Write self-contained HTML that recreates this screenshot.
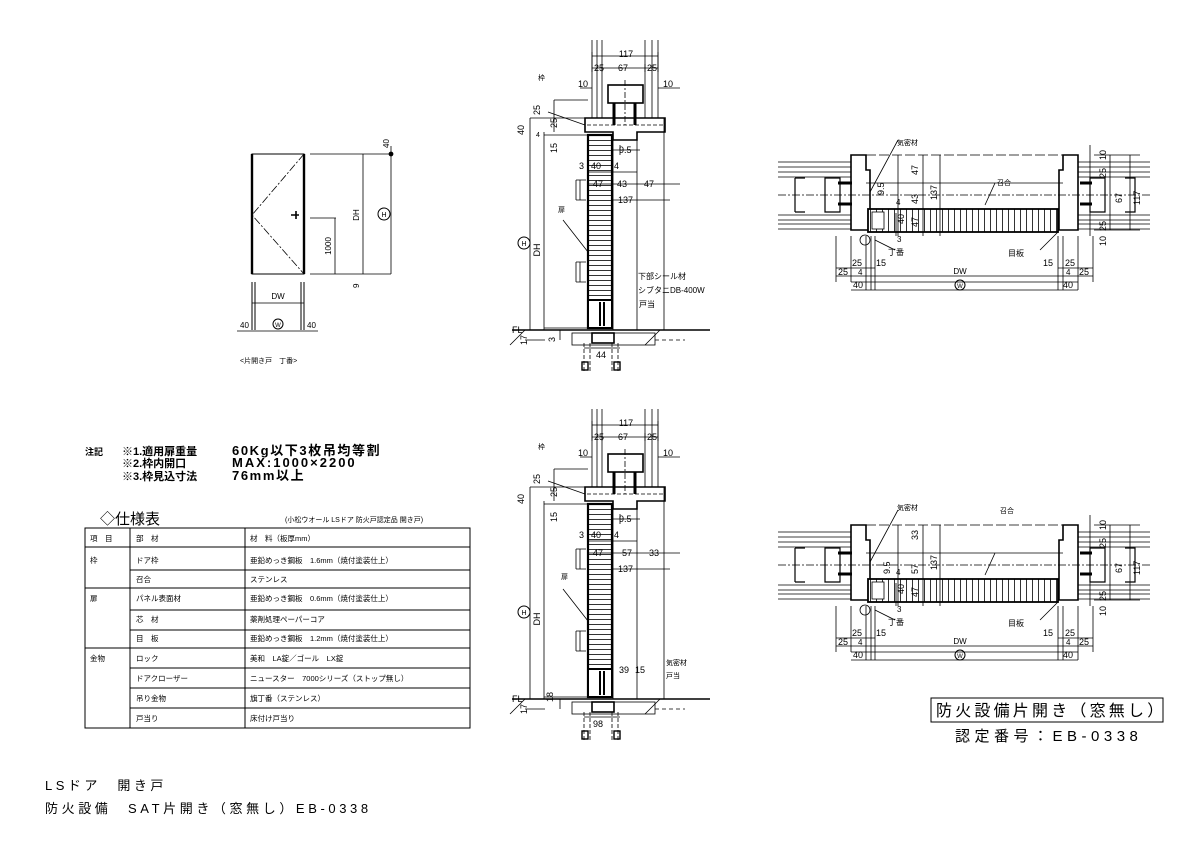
<!DOCTYPE html>
<html><head><meta charset="utf-8"><style>
html,body{margin:0;padding:0;background:#fff;}
svg{display:block;}
text{font-family:"Liberation Sans","Noto Sans CJK JP",sans-serif;fill:#000;}
</style></head><body>
<svg width="1191" height="842" viewBox="0 0 1191 842" xmlns="http://www.w3.org/2000/svg">
<defs>
<pattern id="hh" width="6" height="5" patternUnits="userSpaceOnUse"><rect width="6" height="5" fill="#fff"/><line x1="0" y1="0.5" x2="6" y2="0.5" stroke="#000" stroke-width="0.8"/></pattern>
<pattern id="vh" width="6" height="6" patternUnits="userSpaceOnUse"><rect width="6" height="6" fill="#fff"/><line x1="0.5" y1="0" x2="0.5" y2="6" stroke="#000" stroke-width="0.8"/></pattern>

<g id="sec" stroke="#000" fill="none" stroke-width="0.8">
  <path d="M592 40V118 M597 40V118 M602 40V118 M645 40V118 M652 40V118 M658 40V118"/>
  <path d="M592 56H658 M592 68H658 M580 88H592 M658 88H680"/>
  <path d="M592 52V72 M602 64V72 M645 64V72 M658 52V72"/>
  <rect x="608" y="85" width="35" height="18" stroke-width="1.6"/>
  <path d="M614 103V125 M635 103V125" stroke-width="3"/>
  <path d="M625 80V125" stroke-dasharray="6 2 2 2"/>
  <path d="M585 118H665V132H637V140H613V132H585Z" stroke-width="1.6"/>
  <path d="M587 125H665" stroke-dasharray="4 2"/>
  <rect x="588" y="135" width="24" height="193" fill="url(#hh)" stroke-width="2.2"/>
  <rect x="588" y="300" width="24" height="28" fill="#fff" stroke-width="2"/>
  <path d="M600 302V326 M604 302V326" stroke-width="2"/>
  <path d="M613 140V330 M637 132V330 M664 118V330"/>
  <path d="M576 180H586 M576 180V200 M580 180V200 M576 200H586 M576 262H586 M576 262V282 M580 262V282 M576 282H586"/>
  <path d="M530 118V330 M544 132V330 M530 118H588 M544 135H588 M544 328H588 M525 340H545"/>
  <path d="M554 100V132 M554 100H588 M560 330V340"/>
  <path d="M512 330H710" stroke-width="1.4"/>
  <path d="M510 345L525 330 M645 345L660 330"/>
  <rect x="572" y="333" width="83" height="12" stroke-width="0.8"/>
  <rect x="592" y="333" width="22" height="10" stroke-width="1.6"/>
  <path d="M584 343V372 M590 343V372 M612 343V372 M618 343V372" stroke-dasharray="4 2"/>
  <path d="M584 348H620" />
  <rect x="582" y="362" width="6" height="8" stroke-width="1.4"/>
  <rect x="614" y="362" width="6" height="8" stroke-width="1.4"/>
  <path d="M655 340H685" stroke-dasharray="4 3"/>
  <path d="M613 150H640 M588 172H637 M588 184H680 M613 200H670 M620 145V155"/>
  <path d="M548 112L585 125 M563 220L588 252"/>
</g>

<g id="plan" stroke="#000" fill="none" stroke-width="0.8">
  <path d="M778 162H851 M778 167H851 M778 172H851 M778 177H851 M778 215H851 M778 220H851 M778 224H851 M778 229H851"/>
  <path d="M1078 162H1150 M1078 167H1150 M1078 172H1150 M1078 177H1150 M1078 215H1150 M1078 220H1150 M1078 224H1150 M1078 229H1150"/>
  <path d="M778 195H1150" stroke-dasharray="8 2 2 2"/>
  <path d="M795 178V212 M795 178H805 M795 212H805 M825 178H840V212H825Z" stroke-width="1.2"/>
  <path d="M1090 178H1105V212H1090Z M1125 178H1135V212H1125" stroke-width="1.2"/>
  <path d="M838 183H852 M838 204H852 M1080 183H1092 M1080 204H1092" stroke-width="3"/>
  <path d="M851 155H866V170H870V230H851Z" stroke-width="1.6"/>
  <path d="M1078 155H1063V170H1059V230H1078Z" stroke-width="1.6"/>
  <path d="M866 155H1063" stroke-dasharray="10 3"/>
  <path d="M866 183H1063"/>
  <rect x="868" y="209" width="190" height="23" fill="url(#vh)" stroke-width="1.8"/>
  <rect x="872" y="212" width="12" height="17" fill="#fff"/>
  <circle cx="865" cy="240" r="5"/>
  <path d="M851 236V282 M866 236V290 M871 236V290 M875 236V290 M1058 236V290 M1063 236V290 M1078 236V290 M836 236V282 M1093 236V282"/>
  <path d="M836 268H875 M1058 268H1093 M836 276H1093 M851 282H1078 M851 290H1078"/>
  <path d="M923 155V236 M940 155V236 M898 155V236 M896 213V236"/>
  <path d="M1090 145V236 M1110 155V230 M1130 155V230 M1094 155H1140 M1094 230H1140"/>
  <path d="M870 192L898 140 M875 240L895 250 M1040 250L1058 232 M985 205L995 183"/>
</g>
</defs>

<g stroke="#000" fill="none" stroke-width="0.8">
  <rect x="252" y="154" width="52" height="120" stroke-width="1"/>
  <path d="M252 154V274 M304 154V274" stroke-width="2.4"/>
  <path d="M304 154L252 215L304 274" stroke-dasharray="8 2 2 2"/>
  <path d="M296 211V219 M291 215H299" stroke-width="1.6"/>
  <path d="M310 154H391 M310 218H336 M310 274H391 M335 218V274 M363 154V274 M391 146V274"/>
  <path d="M252 282V330 M304 282V330 M255 282V330 M301 282V330" stroke-width="1"/>
  <path d="M252 303H304 M237 331H318"/>
  <circle cx="391" cy="154" r="2" fill="#000"/>
</g>
<g font-size="8">
  <text x="278" y="299" text-anchor="middle">DW</text>
  <text x="240" y="328">40</text>
  <text x="307" y="328">40</text>
  <circle cx="278" cy="324" r="5" fill="none" stroke="#000"/>
  <text x="278" y="327" text-anchor="middle" font-size="6">W</text>
  <text transform="translate(359,215) rotate(-90)" text-anchor="middle">DH</text>
  <text transform="translate(331,246) rotate(-90)" text-anchor="middle">1000</text>
  <text transform="translate(389,148) rotate(-90)">40</text>
  <text transform="translate(359,288) rotate(-90)">9</text>
  <circle cx="384" cy="214" r="6" fill="none" stroke="#000"/>
  <text x="384" y="217" text-anchor="middle" font-size="7">H</text>
  <text x="240" y="363" font-size="7">&lt;片開き戸　丁番&gt;</text>
</g>

<use href="#sec"/>
<use href="#sec" transform="translate(0,369)"/>
<g font-size="9">
  <text x="626" y="57" text-anchor="middle">117</text>
  <text x="594" y="71">25</text><text x="618" y="71">67</text><text x="647" y="71">25</text>
  <text x="578" y="87">10</text><text x="663" y="87">10</text>
  <text x="538" y="80" font-size="7">枠</text>
  <text transform="translate(524,135) rotate(-90)">40</text>
  <text transform="translate(540,115) rotate(-90)">25</text>
  <text transform="translate(557,128) rotate(-90)">25</text>
  <text transform="translate(557,153) rotate(-90)">15</text>
  <text x="536" y="137" font-size="7">4</text>
  <text x="619" y="153">9.5</text>
  <text x="579" y="169">3</text><text x="591" y="169">40</text><text x="614" y="169">4</text>
  <text x="593" y="187">47</text><text x="617" y="187">43</text><text x="644" y="187">47</text>
  <text x="618" y="203">137</text>
  <text x="558" y="212" font-size="7">扉</text>
  <text transform="translate(540,250) rotate(-90)" text-anchor="middle">DH</text>
  <circle cx="524" cy="243" r="6" fill="none" stroke="#000"/>
  <text x="524" y="246" text-anchor="middle" font-size="7">H</text>
  <text x="638" y="279" font-size="8">下部シール材</text>
  <text x="638" y="293" font-size="8">シブタニDB-400W</text>
  <text x="639" y="307" font-size="8">戸当</text>
  <text x="512" y="333">FL</text>
  <text transform="translate(527,345) rotate(-90)">17</text>
  <text transform="translate(555,342) rotate(-90)">3</text>
  <text x="596" y="358">44</text>

  <g transform="translate(0,369)">
  <text x="626" y="57" text-anchor="middle">117</text>
  <text x="594" y="71">25</text><text x="618" y="71">67</text><text x="647" y="71">25</text>
  <text x="578" y="87">10</text><text x="663" y="87">10</text>
  <text x="538" y="80" font-size="7">枠</text>
  <text transform="translate(524,135) rotate(-90)">40</text>
  <text transform="translate(540,115) rotate(-90)">25</text>
  <text transform="translate(557,128) rotate(-90)">25</text>
  <text transform="translate(557,153) rotate(-90)">15</text>
  <text x="619" y="153">9.5</text>
  <text x="579" y="169">3</text><text x="591" y="169">40</text><text x="614" y="169">4</text>
  <text x="593" y="187">47</text><text x="622" y="187">57</text><text x="649" y="187">33</text>
  <text x="618" y="203">137</text>
  <text x="561" y="210" font-size="7">扉</text>
  <text transform="translate(540,250) rotate(-90)" text-anchor="middle">DH</text>
  <circle cx="524" cy="243" r="6" fill="none" stroke="#000"/>
  <text x="524" y="246" text-anchor="middle" font-size="7">H</text>
  <text x="666" y="296" font-size="7">気密材</text>
  <text x="666" y="309" font-size="7">戸当</text>
  <text x="619" y="304">39</text><text x="635" y="304">15</text>
  <text x="512" y="333">FL</text>
  <text transform="translate(527,345) rotate(-90)">17</text>
  <text transform="translate(553,333) rotate(-90)">18</text>
  <text x="593" y="358">98</text>
  </g>
</g>

<use href="#plan"/>
<use href="#plan" transform="translate(0,370)"/>
<g font-size="9">
  <text x="897" y="145" font-size="7">気密材</text>
  <text x="997" y="185" font-size="7">召合</text>
  <text transform="translate(918,175) rotate(-90)">47</text>
  <text transform="translate(918,204) rotate(-90)">43</text>
  <text transform="translate(937,200) rotate(-90)">137</text>
  <text transform="translate(884,195) rotate(-90)">9.5</text>
  <text transform="translate(904,224) rotate(-90)">40</text>
  <text transform="translate(918,227) rotate(-90)">47</text>
  <text x="896" y="205" font-size="8">4</text>
  <text x="897" y="242" font-size="8">3</text>
  <text x="888" y="255" font-size="8">丁番</text>
  <text x="1008" y="256" font-size="8">目板</text>
  <text x="852" y="266">25</text><text x="876" y="266">15</text>
  <text x="1043" y="266">15</text><text x="1065" y="266">25</text>
  <text x="838" y="275">25</text><text x="858" y="275" font-size="8">4</text>
  <text x="1066" y="275" font-size="8">4</text><text x="1079" y="275">25</text>
  <text x="960" y="274" text-anchor="middle" font-size="8">DW</text>
  <text x="853" y="288">40</text><text x="1063" y="288">40</text>
  <circle cx="960" cy="285" r="5" fill="none" stroke="#000"/>
  <text x="960" y="288" text-anchor="middle" font-size="6">W</text>
  <text transform="translate(1106,160) rotate(-90)">10</text>
  <text transform="translate(1106,178) rotate(-90)">25</text>
  <text transform="translate(1122,203) rotate(-90)">67</text>
  <text transform="translate(1140,205) rotate(-90)">117</text>
  <text transform="translate(1106,231) rotate(-90)">25</text>
  <text transform="translate(1106,246) rotate(-90)">10</text>

  <g transform="translate(0,370)">
  <text x="897" y="140" font-size="7">気密材</text>
  <text x="1000" y="143" font-size="7">召合</text>
  <text transform="translate(918,170) rotate(-90)">33</text>
  <text transform="translate(918,204) rotate(-90)">57</text>
  <text transform="translate(937,200) rotate(-90)">137</text>
  <text transform="translate(890,204) rotate(-90)">9.5</text>
  <text transform="translate(904,224) rotate(-90)">40</text>
  <text transform="translate(918,227) rotate(-90)">47</text>
  <text x="896" y="205" font-size="8">4</text>
  <text x="897" y="242" font-size="8">3</text>
  <text x="888" y="255" font-size="8">丁番</text>
  <text x="1008" y="256" font-size="8">目板</text>
  <text x="852" y="266">25</text><text x="876" y="266">15</text>
  <text x="1043" y="266">15</text><text x="1065" y="266">25</text>
  <text x="838" y="275">25</text><text x="858" y="275" font-size="8">4</text>
  <text x="1066" y="275" font-size="8">4</text><text x="1079" y="275">25</text>
  <text x="960" y="274" text-anchor="middle" font-size="8">DW</text>
  <text x="853" y="288">40</text><text x="1063" y="288">40</text>
  <circle cx="960" cy="285" r="5" fill="none" stroke="#000"/>
  <text x="960" y="288" text-anchor="middle" font-size="6">W</text>
  <text transform="translate(1106,160) rotate(-90)">10</text>
  <text transform="translate(1106,178) rotate(-90)">25</text>
  <text transform="translate(1122,203) rotate(-90)">67</text>
  <text transform="translate(1140,205) rotate(-90)">117</text>
  <text transform="translate(1106,231) rotate(-90)">25</text>
  <text transform="translate(1106,246) rotate(-90)">10</text>
  </g>
</g>

<g font-size="11" font-weight="bold">
  <text x="85" y="455" font-size="9">注記</text>
  <text x="122" y="455">※1.適用扉重量</text><text x="232" y="455" font-size="13" letter-spacing="1.6">60Kg以下3枚吊均等割</text>
  <text x="122" y="467">※2.枠内開口</text><text x="232" y="467" font-size="13" letter-spacing="2">MAX:1000×2200</text>
  <text x="122" y="480">※3.枠見込寸法</text><text x="232" y="480" font-size="13" letter-spacing="1.6">76mm以上</text>
</g>
<text x="100" y="524" font-size="15">◇仕様表</text>
<text x="285" y="522" font-size="7">(小松ウオール LSドア 防火戸認定品 開き戸)</text>

<g stroke="#000" fill="none" stroke-width="1">
  <rect x="85" y="528" width="385" height="200"/>
  <path d="M130 528V728 M245 528V728"/>
  <path d="M85 547H470 M130 570H470 M85 588H470 M130 610H470 M130 630H470 M85 648H470 M130 668H470 M130 688H470 M130 708H470"/>
</g>
<g font-size="7.5">
  <text x="90" y="541">項　目</text><text x="136" y="541">部　材</text><text x="250" y="541">材　料（板厚mm）</text>
  <text x="90" y="563">枠</text><text x="136" y="563">ドア枠</text><text x="250" y="563">亜鉛めっき鋼板　1.6mm（焼付塗装仕上）</text>
  <text x="136" y="582">召合</text><text x="250" y="582">ステンレス</text>
  <text x="90" y="601">扉</text><text x="136" y="601">パネル表面材</text><text x="250" y="601">亜鉛めっき鋼板　0.6mm（焼付塗装仕上）</text>
  <text x="136" y="622">芯　材</text><text x="250" y="622">薬剤処理ペーパーコア</text>
  <text x="136" y="641">目　板</text><text x="250" y="641">亜鉛めっき鋼板　1.2mm（焼付塗装仕上）</text>
  <text x="90" y="661">金物</text><text x="136" y="661">ロック</text><text x="250" y="661">美和　LA錠／ゴール　LX錠</text>
  <text x="136" y="681">ドアクローザー</text><text x="250" y="681">ニュースター　7000シリーズ（ストップ無し）</text>
  <text x="136" y="701">吊り金物</text><text x="250" y="701">旗丁番（ステンレス）</text>
  <text x="136" y="721">戸当り</text><text x="250" y="721">床付け戸当り</text>
</g>

<g font-size="13">
  <text x="45" y="790" letter-spacing="3.5">LSドア　開き戸</text>
  <text x="45" y="813" letter-spacing="3.6">防火設備　SAT片開き（窓無し）EB-0338</text>
</g>

<rect x="931" y="698" width="232" height="24" fill="none" stroke="#000" stroke-width="1"/>
<text x="936" y="716" font-size="16" letter-spacing="3.2">防火設備片開き（窓無し）</text>
<text x="955" y="741" font-size="15" letter-spacing="4.5">認定番号：EB-0338</text>
</svg>
</body></html>
